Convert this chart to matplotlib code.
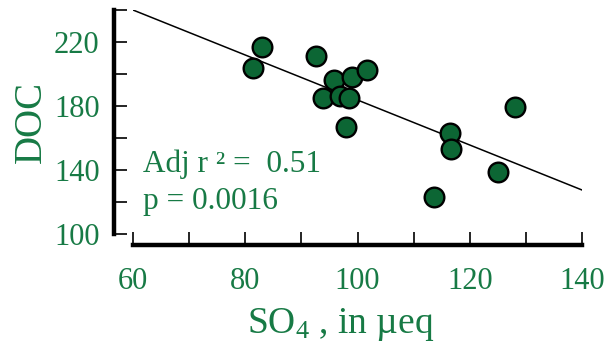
import matplotlib
matplotlib.use("Agg")
import matplotlib.pyplot as plt

# ---- data ----
so4 = [83.0, 81.4, 92.6, 95.9, 99.0, 101.7, 93.8, 96.9, 98.5, 98.0, 116.5, 116.6, 128.1, 125.0, 113.7]
doc = [217.1, 203.9, 211.3, 196.3, 197.9, 202.5, 184.8, 186.4, 185.2, 167.1, 162.9, 152.9, 179.6, 138.9, 123.3]
fit_x = [60, 140]
fit_y = [240, 127.5]
x_ticks = [60, 70, 80, 90, 100, 110, 120, 130, 140]
x_labels = ["60", "", "80", "", "100", "", "120", "", "140"]
y_ticks = [100, 120, 140, 160, 180, 200, 220, 240]
y_labels = ["100", "", "140", "", "180", "", "220", ""]
stat_lines = ["Adj r \u00b2 =  0.51", "p = 0.0016"]

green_txt = "#177a45"
green_dot = "#0c6634"

plt.rcParams["font.family"] = ["Liberation Serif", "DejaVu Serif"]
plt.rcParams["mathtext.fontset"] = "custom"
plt.rcParams["mathtext.rm"] = "Liberation Serif"
plt.rcParams["mathtext.default"] = "rm"

fig = plt.figure(figsize=(6.08, 3.51), dpi=100)
ax = fig.add_axes([133 / 608, 1 - 234 / 351, 449 / 608, 224 / 351])

ax.plot(fit_x, fit_y, color="black", lw=1.1, zorder=2)
ax.scatter(so4, doc, s=200, c=green_dot, edgecolors="black", linewidths=1.7, zorder=3)

ax.set_xlim(60, 140)
ax.set_ylim(100, 240)

for side in ["top", "right"]:
    ax.spines[side].set_visible(False)
ax.spines["left"].set_position(("outward", 14))
ax.spines["bottom"].set_position(("outward", 8))
ax.spines["left"].set_linewidth(3.2)
ax.spines["bottom"].set_linewidth(3.2)

ax.set_xticks(x_ticks)
ax.set_xticklabels(x_labels)
ax.set_yticks(y_ticks)
ax.set_yticklabels(y_labels)
ax.tick_params(axis="both", direction="in", length=9.5, width=1.2, color="black",
               labelcolor=green_txt, labelsize=22)
ax.tick_params(axis="x", pad=16)
ax.tick_params(axis="y", pad=10)

ax.set_ylabel("DOC", fontsize=28, color=green_txt, labelpad=3)
ax.set_xlabel("SO$_{4}$ , in \u00b5eq", fontsize=27, color=green_txt, labelpad=4)
ax.xaxis.set_label_coords(0.462, -0.32)

ax.text(0.022, 0.275, stat_lines[0], transform=ax.transAxes, fontsize=22.5,
        color=green_txt, va="baseline", ha="left")
ax.text(0.022, 0.11, stat_lines[1], transform=ax.transAxes, fontsize=22.5,
        color=green_txt, va="baseline", ha="left")

fig.savefig("out.png", dpi=100)
